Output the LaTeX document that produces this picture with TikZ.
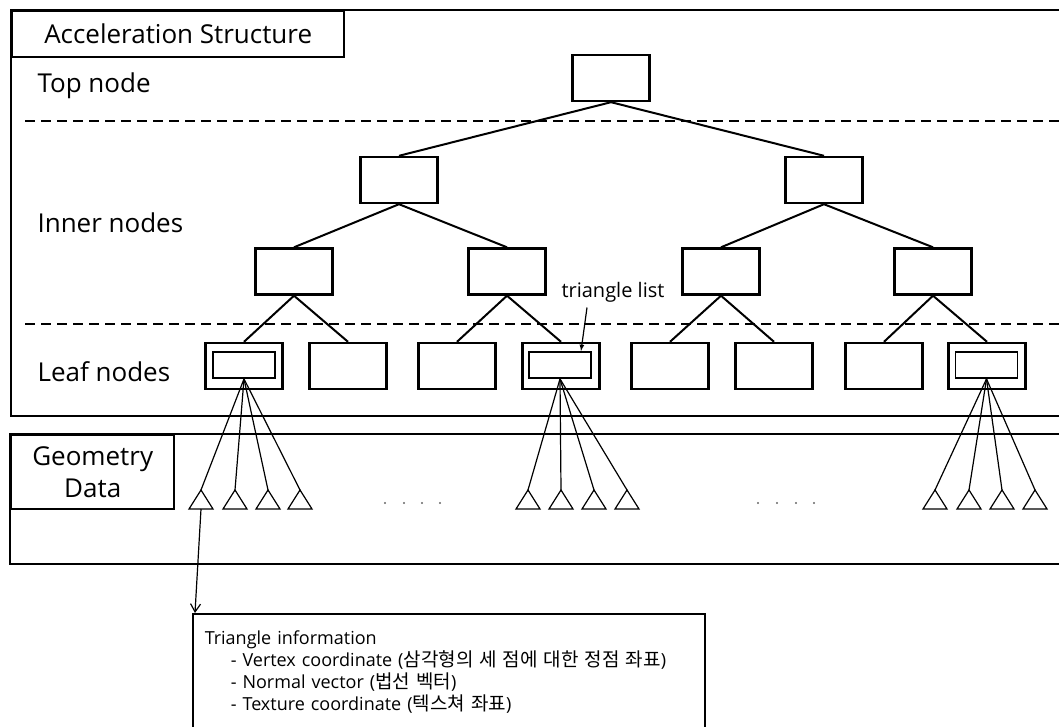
\documentclass[tikz,border=0pt]{standalone}
\usepackage{fontspec}
\setmainfont{Open Sans}
\newfontfamily\kr{Noto Sans CJK KR}
\usetikzlibrary{arrows,arrows.meta}
\begin{document}
\begin{tikzpicture}[x=1pt,y=-1pt,
    box/.style={draw,line width=2.4pt,minimum width=77pt,minimum height=46pt,inner sep=0pt},
    listbox/.style={draw,line width=1.8pt,minimum width=62pt,minimum height=26pt,inner sep=0pt},
    edge/.style={line width=2pt},
    fan/.style={line width=1.2pt},
    big/.style={font=\fontsize{26}{30}\selectfont}]
    \useasboundingbox (0,0) rectangle (1059,727);
    % frames
    \draw [line width=2.4pt] (11,10) rectangle (1075,416);
    \draw [line width=2.4pt] (10,434) rectangle (1075,564);
    \node [draw,line width=2.4pt,big,anchor=north west,minimum width=332pt,minimum height=46pt] (accel) at (11,10) {Acceleration Structure};
    \node [draw,line width=2.4pt,big,anchor=north west,minimum width=163pt,minimum height=74pt,align=center,inner sep=0pt] (geom) at (10,434) {Geometry\\[2pt]Data};
    \draw [line width=2.2pt,dash pattern=on 10pt off 6pt] (25,121) -- (1065,121);
    \draw [line width=2.2pt,dash pattern=on 10pt off 6pt] (25,324) -- (1065,324);
    \node [big,anchor=west] (toplbl) at (34,86) {Top node};
    \node [big,anchor=west] (innerlbl) at (34,223) {Inner nodes};
    \node [big,anchor=west] (leaflbl) at (34,372) {Leaf nodes};
    % tree
    \node [box] (top) at (611,78) {};
    \node [box] (in1) at (399,180) {};
    \node [box] (in2) at (824,180) {};
    \node [box] (in11) at (294,271.5) {};
    \node [box] (in12) at (507,271.5) {};
    \node [box] (in21) at (721,271.5) {};
    \node [box] (in22) at (933,271.5) {};
    \foreach \i/\x in {1/244,2/348,3/457,4/561,5/670,6/774,7/884,8/987}
        \node [box] (lf\i) at (\x,366) {};
    \draw [edge] (top.south) -- (in1.north);
    \draw [edge] (top.south) -- (in2.north);
    \draw [edge] (in1.south) -- (in11.north);
    \draw [edge] (in1.south) -- (in12.north);
    \draw [edge] (in2.south) -- (in21.north);
    \draw [edge] (in2.south) -- (in22.north);
    \draw [edge] (in11.south) -- (lf1.north);
    \draw [edge] (in11.south) -- (lf2.north);
    \draw [edge] (in12.south) -- (lf3.north);
    \draw [edge] (in12.south) -- (lf4.north);
    \draw [edge] (in21.south) -- (lf5.north);
    \draw [edge] (in21.south) -- (lf6.north);
    \draw [edge] (in22.south) -- (lf7.north);
    \draw [edge] (in22.south) -- (lf8.north);
    \node [listbox] (tl1) at (244,365) {};
    \node [listbox] (tl4) at (560,365) {};
    \node [listbox] (tl8) at (986.5,365) {};
    \node [font=\fontsize{20}{24}\selectfont] (tlist) at (613,292) {triangle list};
    \draw [line width=1.2pt,-latex] ([xshift=-26pt,yshift=-2pt]tlist.south) -- ([xshift=21pt]tl4.north);
    % triangles
    \foreach \g/\x in {1/201,2/235,3/268,4/300,5/528,6/561,7/594,8/627,9/935,10/969,11/1002,12/1035}
        \coordinate (tri\g) at (\x,490);
    \foreach \g in {1,...,12}
        \draw [fan] (tri\g) -- ++(-12,19) -- ++(24,0) -- cycle;
    \foreach \g in {1,...,4}
        \draw [fan] (tl1.south) -- (tri\g);
    \foreach \g in {5,...,8}
        \draw [fan] (tl4.south) -- (tri\g);
    \foreach \g in {9,...,12}
        \draw [fan] (tl8.south) -- (tri\g);
    \foreach \x in {385,404,422,440,758,777,796,814}
        \fill [black!60] (\x,503) circle (1.1pt);
    % triangle information
    \node [draw,line width=1.5pt,anchor=north west,align=left,
           font=\fontsize{18}{22}\selectfont,text width=488pt,inner xsep=12pt,inner ysep=17pt] (info) at (192,613)
        {Triangle information\\
         \hspace*{26pt}- Vertex coordinate ({\kr\fontsize{19}{22}\selectfont 삼각형의 세 점에 대한 정점 좌표})\\
         \hspace*{26pt}- Normal vector ({\kr\fontsize{19}{22}\selectfont 법선 벡터})\\
         \hspace*{26pt}- Texture coordinate ({\kr\fontsize{19}{22}\selectfont 텍스쳐 좌표})};
    \coordinate (tri1b) at (201,509);
    \draw [line width=1.2pt,-{Straight Barb[length=8pt,width=10pt]}] (tri1b) -- ([xshift=3pt]info.north west);
\end{tikzpicture}
\end{document}
